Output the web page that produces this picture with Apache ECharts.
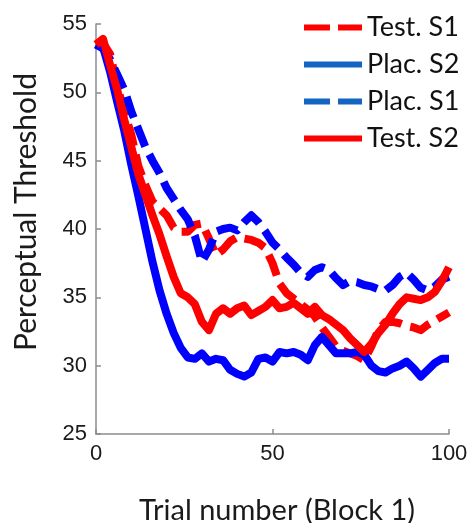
<!DOCTYPE html>
<html><head><meta charset="utf-8">
<script src="https://cdn.jsdelivr.net/npm/echarts@6/dist/echarts.min.js"></script>
<style>html,body{margin:0;padding:0;background:#fff}#c{width:472px;height:523px}</style>
</head><body><div id="c"></div>
<script>
const trials = [0,2,4,6,8,10,12,14,16,18,20,22,24,26,28,30,32,34,36,38,40,42,44,46,48,50,52,54,56,58,60,62,64,66,68,70,72,74,76,78,80,82,84,86,88,90,92,94,96,98,100];
const testS1 = [53.5,53.6,52.8,50.5,48.6,46.9,44.6,43.2,42.0,41.5,41.0,40.1,39.8,39.8,40.3,40.4,39.3,38.1,38.5,39.1,39.4,39.3,39.2,39.0,38.6,37.5,36.0,35.3,34.9,34.5,34.1,33.6,32.8,32.1,31.4,31.1,30.9,30.7,30.4,31.4,32.6,33.2,33.2,33.1,32.9,32.8,32.6,33.0,33.3,33.6,33.9];
const placS2 = [53.5,53.3,51.5,49.3,47.2,44.7,42.4,40.0,37.6,35.5,33.8,32.4,31.3,30.6,30.5,30.9,30.3,30.5,30.4,29.7,29.4,29.2,29.5,30.5,30.6,30.3,31.0,30.9,31.0,30.8,30.4,31.5,32.1,31.5,30.9,30.9,30.9,31.0,30.8,30.0,29.6,29.5,29.8,30.0,30.3,29.8,29.2,29.7,30.2,30.5,30.5];
const placS1 = [53.5,53.2,52.4,51.3,50.2,48.6,47.3,46.0,45.0,44.1,43.0,42.2,41.4,40.7,39.5,37.6,38.5,39.8,40.0,40.1,39.9,40.5,41.0,40.5,39.8,39.0,38.5,37.9,37.4,36.8,36.5,37.0,37.2,37.0,36.4,35.9,36.2,36.1,35.9,35.8,35.6,35.5,35.9,36.5,36.8,36.3,35.7,35.5,35.8,36.3,36.5];
const testS2 = [53.5,53.9,52.0,50.2,48.0,46.0,44.0,42.5,41.0,39.6,38.0,36.5,35.3,35.0,34.5,33.2,32.6,33.8,34.2,33.8,34.2,34.4,33.7,34.0,34.3,34.8,34.2,34.3,34.6,34.2,33.8,34.3,33.7,33.4,33.0,32.6,32.0,31.5,31.0,31.6,32.4,33.0,33.8,34.5,35.0,34.9,34.8,35.0,35.4,36.2,37.2];
const seriesNames = ['Test. S1','Plac. S2','Plac. S1','Test. S2'];
const xTitle = 'Trial number (Block 1)';
const yTitle = 'Perceptual Threshold';

const RED = '#ff0000', BLUE = '#0000ff', LBLUE = '#1464c4';
const DASH = [22, 9];
const pairs = arr => trials.map((t, i) => [t, arr[i]]);
const mk = (name, arr, color, dashed) => ({
  name, type: 'line', data: pairs(arr), showSymbol: false, symbol: 'none',
  lineStyle: { color, width: 8, type: dashed ? DASH : 'solid', cap: 'butt', join: 'round' },
  itemStyle: { color }, animation: false
});

const chart = echarts.init(document.getElementById('c'), null, { renderer: 'canvas' });
const tickFont = { fontFamily: 'Liberation Sans, Arial, sans-serif', fontSize: 22, color: '#1a1a1a' };
chart.setOption({
  animation: false,
  backgroundColor: '#fff',
  grid: { left: 96, right: 23, top: 24, bottom: 89, containLabel: false },
  xAxis: {
    type: 'value', min: 0, max: 100, interval: 50,
    axisLine: { show: true, lineStyle: { color: '#8c8c8c', width: 1.5 } },
    axisTick: { show: true, inside: true, length: 5, lineStyle: { color: '#8c8c8c', width: 1.5 } },
    splitLine: { show: false },
    axisLabel: Object.assign({ margin: 9 }, tickFont)
  },
  yAxis: {
    type: 'value', min: 25, max: 55, interval: 5,
    axisLine: { show: true, lineStyle: { color: '#8c8c8c', width: 1.5 } },
    axisTick: { show: true, inside: true, length: 5, lineStyle: { color: '#8c8c8c', width: 1.5 } },
    splitLine: { show: false },
    axisLabel: Object.assign({ margin: 9 }, tickFont)
  },
  legend: {
    show: true, orient: 'vertical', left: 296, top: 9, itemWidth: 58, itemHeight: 14, itemGap: 10,
    textStyle: { fontFamily: 'Lato, "Open Sans", sans-serif', fontSize: 27, color: '#111' },
    data: [
      { name: seriesNames[0], lineStyle: { color: RED, width: 6, type: [26, 8] }, itemStyle: { opacity: 0 } },
      { name: seriesNames[1], lineStyle: { color: LBLUE, width: 6, type: 'solid' }, itemStyle: { opacity: 0 } },
      { name: seriesNames[2], lineStyle: { color: LBLUE, width: 6, type: [26, 8] }, itemStyle: { opacity: 0 } },
      { name: seriesNames[3], lineStyle: { color: RED, width: 6, type: 'solid' }, itemStyle: { opacity: 0 } }
    ]
  },
  graphic: [
    { type: 'text', x: 277, y: 496, z: 10,
      style: { text: xTitle, align: 'center', font: '29px Lato, "Open Sans", sans-serif', fill: '#1a1a1a' } },
    { type: 'text', rotation: Math.PI / 2, x: 11, y: 351, z: 10,
      style: { text: yTitle, font: '30px Lato, "Open Sans", sans-serif', fill: '#1a1a1a' } }
  ],
  series: [
    mk(seriesNames[0], testS1, RED, true),
    mk(seriesNames[1], placS2, BLUE, false),
    mk(seriesNames[2], placS1, BLUE, true),
    mk(seriesNames[3], testS2, RED, false)
  ]
});
</script></body></html>
